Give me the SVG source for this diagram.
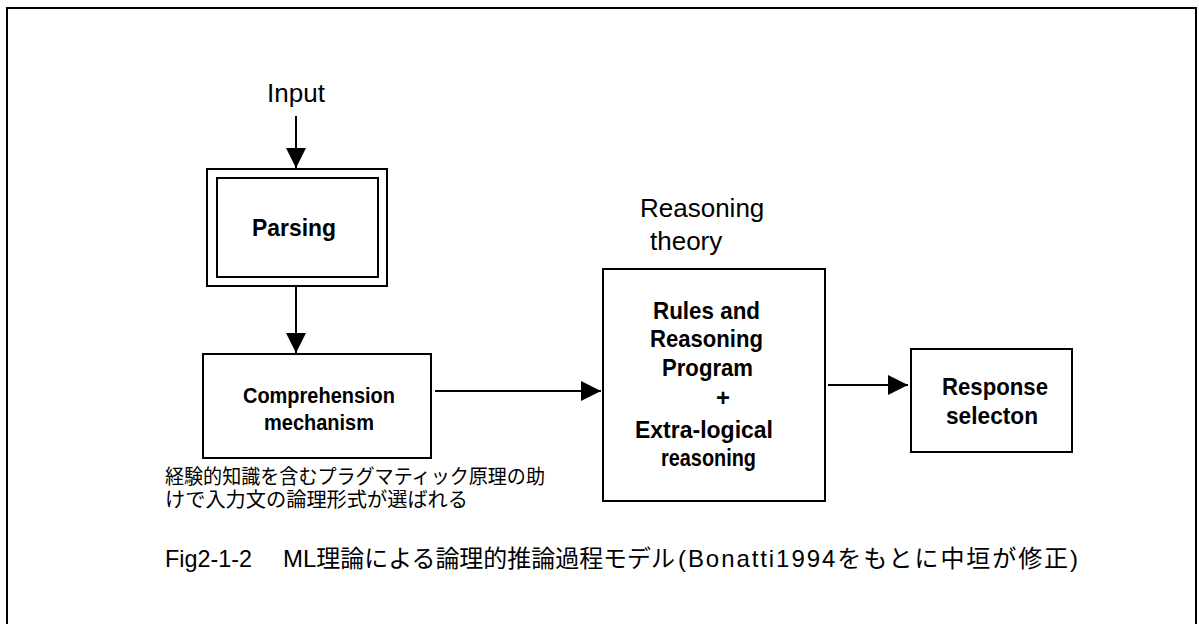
<svg xmlns="http://www.w3.org/2000/svg" width="1199" height="624" viewBox="0 0 1199 624">
<defs>
<style>
.box{fill:#fff;stroke:#000;stroke-width:2}
.ln{fill:none;stroke:#000;stroke-width:2;marker-end:url(#ah)}
text{font-family:"Liberation Sans","Noto Sans CJK JP",Arial,sans-serif;fill:#000}
.b{font-weight:bold;font-size:24px}
.c{font-weight:bold;font-size:22px}
.r{font-size:26px}
.jp{font-size:20px}
.cap{font-size:24px}
</style>
<marker id="ah" markerUnits="userSpaceOnUse" markerWidth="20" markerHeight="20" refX="20" refY="10" orient="auto" viewBox="0 0 20 20">
<path d="M0,0 L20,10 L0,20 z" fill="#000"/>
</marker>
</defs>
<rect width="1199" height="624" fill="#fff"/>
<rect x="7" y="8" width="1189" height="640" fill="none" stroke="#000" stroke-width="2"/>

<g id="connectors">
<line class="ln" x1="296" y1="116" x2="296" y2="168"/>
<line class="ln" x1="296" y1="287" x2="296" y2="353"/>
<line class="ln" x1="435" y1="391" x2="601" y2="391"/>
<line class="ln" x1="828" y1="385" x2="908" y2="385"/>
</g>

<g id="input-label">
<text class="r" x="296" y="102" text-anchor="middle">Input</text>
</g>

<g id="parsing">
<rect class="box" x="207" y="169" width="180" height="117"/>
<rect class="box" x="217" y="178" width="161" height="99"/>
<text class="b" x="252" y="236" textLength="84" lengthAdjust="spacingAndGlyphs">Parsing</text>
</g>

<g id="comprehension">
<rect class="box" x="203" y="354" width="228" height="104"/>
<text class="c" x="243" y="403" textLength="152" lengthAdjust="spacingAndGlyphs">Comprehension</text>
<text class="c" x="264" y="430" textLength="110" lengthAdjust="spacingAndGlyphs">mechanism</text>
</g>

<g id="note">
<text class="jp" x="165" y="484" textLength="380" lengthAdjust="spacingAndGlyphs">経験的知識を含むプラグマティック原理の助</text>
<text class="jp" x="165" y="507" textLength="303" lengthAdjust="spacingAndGlyphs">けで入力文の論理形式が選ばれる</text>
</g>

<g id="reasoning-label">
<text class="r" x="640" y="217">Reasoning</text>
<text class="r" x="650" y="250">theory</text>
</g>

<g id="reasoning">
<rect class="box" x="603" y="269" width="222" height="232"/>
<text class="b" x="653" y="319" textLength="107" lengthAdjust="spacingAndGlyphs">Rules and</text>
<text class="b" x="650" y="347" textLength="113" lengthAdjust="spacingAndGlyphs">Reasoning</text>
<text class="b" x="662" y="376" textLength="91" lengthAdjust="spacingAndGlyphs">Program</text>
<text class="b" x="723" y="406" text-anchor="middle">+</text>
<text class="b" x="635" y="438" textLength="138" lengthAdjust="spacingAndGlyphs">Extra-logical</text>
<text class="b" x="661" y="466" textLength="95" lengthAdjust="spacingAndGlyphs">reasoning</text>
</g>

<g id="response">
<rect class="box" x="911" y="349" width="161" height="103"/>
<text class="b" x="942" y="395" textLength="106" lengthAdjust="spacingAndGlyphs">Response</text>
<text class="b" x="992" y="424" text-anchor="middle" textLength="92" lengthAdjust="spacingAndGlyphs">selecton</text>
</g>

<g id="caption">
<text class="cap" x="165" y="567" textLength="87" lengthAdjust="spacingAndGlyphs">Fig2-1-2</text>
<text class="cap" x="283" y="567" textLength="392" lengthAdjust="spacingAndGlyphs">ML理論による論理的推論過程モデル</text>
<text class="cap" x="678" y="567" textLength="400" lengthAdjust="spacing">(Bonatti1994をもとに中垣が修正)</text>
</g>
</svg>
